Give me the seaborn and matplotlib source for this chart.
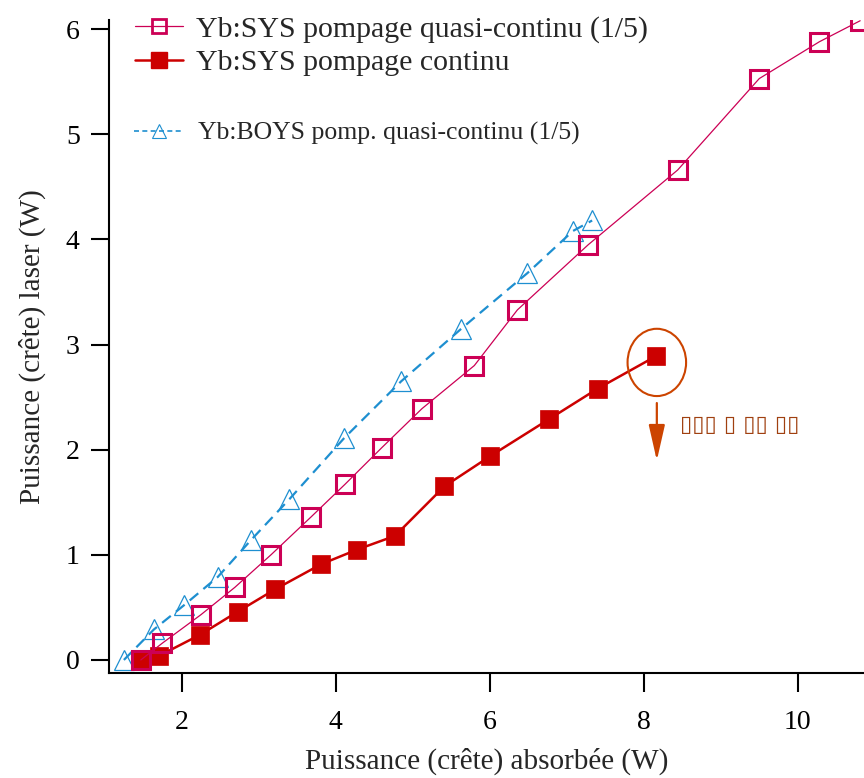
import matplotlib
matplotlib.use("Agg")
import matplotlib.pyplot as plt
import seaborn as sns
from matplotlib.patches import Ellipse
from matplotlib.lines import Line2D

# Data
qcw_x = [1.47, 1.75, 2.25, 2.69, 3.16, 3.68, 4.12, 4.60, 5.12, 5.80, 6.36, 7.28, 8.44, 9.50, 10.28, 10.81]
qcw_y = [0.00, 0.16, 0.43, 0.69, 1.00, 1.36, 1.67, 2.02, 2.39, 2.80, 3.33, 3.95, 4.66, 5.53, 5.88, 6.08]

cw_x = [1.47, 1.71, 2.24, 2.73, 3.21, 3.81, 4.28, 4.77, 5.41, 6.01, 6.77, 7.40, 8.16]
cw_y = [0.00, 0.04, 0.24, 0.46, 0.67, 0.91, 1.05, 1.18, 1.65, 1.94, 2.29, 2.58, 2.89]

boys_x = [1.25, 1.64, 2.03, 2.47, 2.90, 3.40, 4.11, 4.85, 5.63, 6.49, 7.08, 7.33]
boys_y = [0.00, 0.29, 0.52, 0.79, 1.14, 1.53, 2.11, 2.65, 3.15, 3.68, 4.08, 4.18]

labels = ["Yb:SYS pompage quasi-continu (1/5)",
          "Yb:SYS pompage continu",
          "Yb:BOYS pomp. quasi-continu (1/5)"]
note_text = "▯▯▯ ▯ ▯▯ ▯▯"

sns.set_style("ticks")
plt.rcParams["font.family"] = ["Liberation Serif", "DejaVu Serif"]

c_qcw = "#CC0055"
c_cw = "#CC0000"
c_boys = "#1E8FD0"
c_note = "#CC4400"

fig = plt.figure(figsize=(8.64, 7.78), dpi=100)
ax = fig.add_axes([0.126, 0.135, 0.874, 0.839])

# continuous pumping (drawn first, hollow squares overlap it)
sns.lineplot(x=cw_x, y=cw_y, ax=ax, sort=False, color=c_cw, linewidth=1.8,
             marker="s", markersize=12.5, markeredgecolor=c_cw, markerfacecolor=c_cw,
             markeredgewidth=0.5, zorder=3)
sns.lineplot(x=qcw_x, y=qcw_y, ax=ax, sort=False, color=c_qcw, linewidth=0.9,
             marker="s", markersize=13, markeredgecolor=c_qcw, markerfacecolor="none",
             markeredgewidth=2.2, zorder=4)
sns.lineplot(x=boys_x, y=boys_y, ax=ax, sort=False, color=c_boys, linewidth=1.6,
             linestyle=(0, (5, 3)), marker="^", markersize=14, markeredgecolor=c_boys,
             markerfacecolor="none", markeredgewidth=0.9, zorder=2)

ax.set_xlim(1.055, 10.86)
ax.set_ylim(-0.124, 6.085)
ax.set_xticks([2, 4, 6, 8, 10])
ax.set_yticks([0, 1, 2, 3, 4, 5, 6])
ax.tick_params(axis="both", direction="out", labelsize=20, width=1.5, colors="black")
ax.tick_params(axis="x", length=14, pad=13)
ax.tick_params(axis="y", length=13, pad=8)
for side in ["top", "right"]:
    ax.spines[side].set_visible(False)
for side in ["left", "bottom"]:
    ax.spines[side].set_linewidth(1.5)
    ax.spines[side].set_color("black")

ax.set_xlabel("Puissance (crête) absorbée (W)", fontsize=21, labelpad=9)
ax.set_ylabel("Puissance (crête) laser (W)", fontsize=21, labelpad=14)

# annotation around the last continuous point
ax.add_patch(Ellipse((8.17, 2.83), 0.76, 0.64, fill=False, edgecolor=c_note,
                     linewidth=1.5, zorder=5))
ax.annotate("", xy=(8.17, 1.87), xytext=(8.17, 2.47),
            arrowprops=dict(arrowstyle="-|>,head_length=2.2,head_width=0.5",
                            color=c_note, lw=1.6))
ax.text(8.47, 2.23, note_text, fontsize=16, color="#A04010", va="center", ha="left",
        family=["DejaVu Sans"])

# legends
h1 = Line2D([], [], color=c_qcw, linewidth=0.9, marker="s", markersize=10,
            markerfacecolor="none", markeredgecolor=c_qcw, markeredgewidth=2.0)
h2 = Line2D([], [], color=c_cw, linewidth=1.8, marker="s", markersize=12,
            markerfacecolor=c_cw, markeredgecolor=c_cw)
h3 = Line2D([], [], color=c_boys, linewidth=1.2, linestyle=(0, (3, 2)), marker="^",
            markersize=10, markerfacecolor="none", markeredgecolor=c_boys,
            markeredgewidth=0.8)
leg1 = ax.legend([h1, h2], labels[:2], loc="upper left", bbox_to_anchor=(0.019, 1.025),
                 frameon=False, fontsize=21.5, handlelength=1.6, handletextpad=0.45,
                 labelspacing=0.2, borderaxespad=0)
ax.add_artist(leg1)
ax.legend([h3], labels[2:], loc="upper left", bbox_to_anchor=(0.02, 0.86),
          frameon=False, fontsize=18.5, handlelength=1.9, handletextpad=0.6,
          borderaxespad=0)

fig.savefig("out.png", dpi=100)
